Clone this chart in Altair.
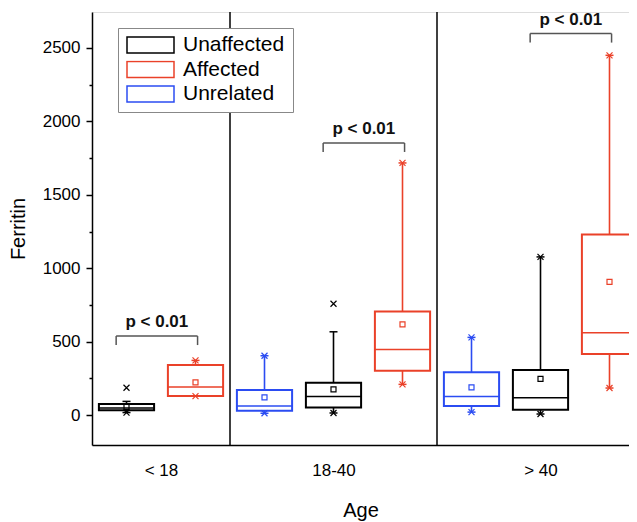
import altair as alt
import pandas as pd

FONT = "Liberation Sans"

# ---- data ----
groups = ["< 18", "18-40", "> 40"]
box_group = ["< 18", "< 18", "18-40", "18-40", "18-40", "> 40", "> 40", "> 40"]
box_cat = ["Unaffected", "Affected", "Unrelated", "Unaffected", "Affected",
           "Unrelated", "Unaffected", "Affected"]
q1 = [32, 129, 29, 52, 302, 61, 36, 415]
median = [48, 191, 61, 127, 447, 127, 118, 560]
q3 = [75, 340, 170, 220, 706, 291, 306, 1230]
mean = [56, 223, 120, 175, 617, 189, 247, 907]
whisker_lo = [17, 129, 12, 14, 209, 20, 7, 184]
whisker_hi = [93, 372, 404, 567, 1717, 529, 1077, 2450]
value_min = [17, 129, 12, 14, 209, 20, 7, 184]
value_max = [186, 372, 404, 758, 1717, 529, 1077, 2450]

p_labels = ["p < 0.01", "p < 0.01", "p < 0.01"]
bracket_y = [538, 1853, 2598]

categories = ["Unaffected", "Affected", "Unrelated"]
colors = ["#000000", "#EA4129", "#2B4CF2"]

# ---- derived tables ----
slot = [i + 0.5 for i in range(len(box_cat))]
boxes = pd.DataFrame({
    "group": box_group, "category": box_cat, "slot": slot,
    "lo": [s - 0.4 for s in slot], "hi": [s + 0.4 for s in slot],
    "q1": q1, "median": median, "q3": q3, "mean": mean,
    "wlo": whisker_lo, "whi": whisker_hi, "vmin": value_min, "vmax": value_max,
})

caps = boxes.melt(id_vars=["category", "slot"], value_vars=["wlo", "whi"], value_name="v")
marks = boxes.melt(id_vars=["category", "slot"], value_vars=["vmin", "vmax"], value_name="v")

group_centers, boundaries = [], []
for g in groups:
    s = boxes.loc[boxes.group == g, "slot"]
    group_centers.append(float(s.mean()))
    boundaries.append(float(s.max() + 0.5))
seps = pd.DataFrame({"x": boundaries[:-1]})

br_left, br_right = [], []
for g in groups:
    sub = boxes[boxes.group == g]
    br_left.append(float(sub.loc[sub.category == "Unaffected", "slot"].iloc[0]) - 0.15)
    br_right.append(float(sub.loc[sub.category == "Affected", "slot"].iloc[0]) + 0.03)
brackets = pd.DataFrame({"l": br_left, "r": br_right, "y": bracket_y, "label": p_labels})
brackets["mid"] = (brackets.l + brackets.r) / 2
bracket_ends = brackets.melt(id_vars=["y"], value_vars=["l", "r"], value_name="x")

label_expr = " : ".join(
    f"datum.value == {c} ? '{g}'" for c, g in zip(group_centers[:-1], groups[:-1])
) + f" : '{groups[-1]}'"

# ---- scales / encodings ----
PX_PER_SLOT = 69
W, H = 537, 433
xscale = alt.Scale(domain=[0, W / PX_PER_SLOT], nice=False, zero=False)
yscale = alt.Scale(domain=[-204, 2745], nice=False, zero=False)

legend = alt.Legend(
    title=None, orient="none", legendX=26, legendY=16,
    symbolType="M-1,-0.34L1,-0.34L1,0.34L-1,0.34Z", symbolSize=2209,
    symbolStrokeWidth=1.5, symbolFillColor="white", clipHeight=18,
    labelFont=FONT, labelFontSize=21, labelOffset=8, labelColor="black",
    rowPadding=3.5, padding=8, strokeColor="#888888", fillColor="white",
)
stroke = alt.Stroke("category:N", scale=alt.Scale(domain=categories, range=colors), legend=legend)

x_axis = alt.Axis(
    title="Age", values=group_centers, labelExpr=label_expr, ticks=False, grid=False,
    domainColor="black", domainWidth=1.5, labelFont=FONT, labelFontSize=17,
    labelColor="black", labelPadding=17, titleFont=FONT, titleFontSize=20,
    titleFontWeight="normal", titleColor="black", titlePadding=22,
)
y_axis = alt.Axis(
    title="Ferritin", values=list(range(0, 2501, 250)), format="d",
    labelExpr="datum.value % 500 === 0 ? datum.label : ''",
    tickSize={"condition": {"test": "datum.value % 500 === 0", "value": 6}, "value": 3},
    grid=False, domainColor="black", domainWidth=1.5, tickColor="black", tickWidth=1.5,
    labelFont=FONT, labelFontSize=17, labelColor="black", labelPadding=6,
    labelOverlap=False, titleFont=FONT, titleFontSize=20, titleFontWeight="normal",
    titleColor="black", titlePadding=14,
)

base = alt.Chart(boxes)

sep_layer = alt.Chart(seps).mark_rule(color="black", strokeWidth=1.5).encode(
    x=alt.X("x:Q", scale=xscale, axis=x_axis), y=alt.value(0), y2=alt.value(H)
)
whisk = base.mark_rule(strokeWidth=1.6).encode(
    x=alt.X("slot:Q", scale=xscale), y=alt.Y("wlo:Q", scale=yscale, axis=y_axis),
    y2="whi:Q", stroke=stroke,
)
box = base.mark_bar(fill="white", strokeWidth=2).encode(
    x=alt.X("lo:Q", scale=xscale), x2="hi:Q",
    y=alt.Y("q1:Q", scale=yscale), y2="q3:Q", stroke=stroke,
)
med = base.mark_rule(strokeWidth=1.5).encode(
    x=alt.X("lo:Q", scale=xscale), x2="hi:Q", y=alt.Y("median:Q", scale=yscale), stroke=stroke,
)
mn = base.mark_point(shape="square", size=25, filled=False, strokeWidth=1.2, opacity=1).encode(
    x=alt.X("slot:Q", scale=xscale), y=alt.Y("mean:Q", scale=yscale), stroke=stroke,
)
cap = alt.Chart(caps).mark_point(shape="M-1,0L1,0", size=64, filled=False, strokeWidth=1.5, opacity=1).encode(
    x=alt.X("slot:Q", scale=xscale), y=alt.Y("v:Q", scale=yscale), stroke=stroke,
)
crs = alt.Chart(marks).mark_point(shape="M-1,-1L1,1M-1,1L1,-1", size=36, filled=False, strokeWidth=1.2, opacity=1).encode(
    x=alt.X("slot:Q", scale=xscale), y=alt.Y("v:Q", scale=yscale), stroke=stroke,
)
br_h = alt.Chart(brackets).mark_rule(color="#555555", strokeWidth=1.5).encode(
    x=alt.X("l:Q", scale=xscale), x2="r:Q", y=alt.Y("y:Q", scale=yscale),
)
br_v = alt.Chart(bracket_ends).mark_rule(color="#555555", strokeWidth=1.5, y2Offset=9).encode(
    x=alt.X("x:Q", scale=xscale), y=alt.Y("y:Q", scale=yscale), y2="y:Q",
)
ptxt = alt.Chart(brackets).mark_text(
    font=FONT, fontSize=17, fontWeight="bold", color="#111111", dy=-9, baseline="alphabetic"
).encode(x=alt.X("mid:Q", scale=xscale), y=alt.Y("y:Q", scale=yscale), text="label:N")

chart = alt.layer(sep_layer, whisk, box, med, mn, cap, crs, br_h, br_v, ptxt).properties(
    width=W, height=H,
    autosize=alt.AutoSizeParams(type="none"),
    padding={"left": 84, "top": 4, "right": 0, "bottom": 77},
).configure_view(stroke=None).configure(font=FONT)

chart.save("out.html", embed_options={"renderer": "svg", "actions": False})
